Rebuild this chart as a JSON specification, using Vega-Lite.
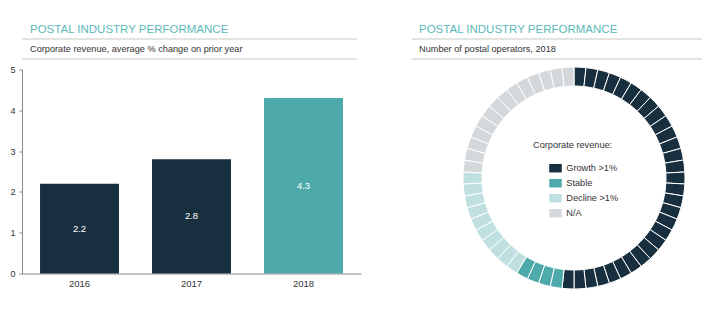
{
  "$schema": "https://vega.github.io/schema/vega-lite/v6.json",
  "padding": {"top": 23, "left": 0, "right": 0, "bottom": 0},
  "config": {"font": "Liberation Sans", "view": {"stroke": null}},
  "spacing": 4.5,
  "resolve": {"scale": {"color": "independent", "fill": "independent"}, "legend": {"color": "independent"}},
  "vconcat": [
    {
      "spacing": 53,
      "hconcat": [
        {
          "width": 335,
          "height": 20,
          "title": {"text": "POSTAL INDUSTRY PERFORMANCE", "subtitle": "Corporate revenue, average % change on prior year", "anchor": "start", "frame": "group", "dx": 8, "offset": -16, "fontSize": 11.5, "fontWeight": "normal", "color": "#5ab9ba", "subtitleFontSize": 9.2, "subtitleColor": "#333333", "subtitlePadding": 10},
          "data": {"values": [{"line": 0}, {"line": 1}]},
          "mark": {"type": "rule", "color": "#c8c8c8", "strokeWidth": 1.2},
          "encoding": {"y": {"field": "line", "type": "quantitative", "scale": {"domain": [0, 1]}, "axis": null}}
        },
        {
          "width": 314,
          "height": 20,
          "title": {"text": "POSTAL INDUSTRY PERFORMANCE", "subtitle": "Number of postal operators, 2018", "anchor": "start", "frame": "group", "dx": 7, "offset": -16, "fontSize": 11.5, "fontWeight": "normal", "color": "#5ab9ba", "subtitleFontSize": 9.2, "subtitleColor": "#333333", "subtitlePadding": 10},
          "data": {"values": [{"line": 0}, {"line": 1}]},
          "mark": {"type": "rule", "color": "#c8c8c8", "strokeWidth": 1.2},
          "encoding": {"y": {"field": "line", "type": "quantitative", "scale": {"domain": [0, 1]}, "axis": null}}
        }
      ]
    },
    {
      "spacing": 85,
      "resolve": {"scale": {"color": "independent", "fill": "independent"}, "legend": {"color": "independent"}},
      "hconcat": [
        {
          "width": 339,
          "height": 204,
          "data": {"values": [
            {"year": "2016", "value": 2.2},
            {"year": "2017", "value": 2.8},
            {"year": "2018", "value": 4.3}
          ]},
          "encoding": {
            "x": {"field": "year", "type": "ordinal", "scale": {"paddingInner": 0.295, "paddingOuter": 0.161},
              "axis": {"title": null, "labelAngle": 0, "ticks": false, "tickSize": 0, "domainColor": "#888888", "labelFontSize": 9.5, "labelColor": "#333333", "labelPadding": 5}}
          },
          "resolve": {"scale": {"y": "independent"}, "axis": {"y": "independent"}},
          "layer": [
            {
              "mark": {"type": "bar"},
              "encoding": {
                "y": {"field": "value", "type": "quantitative", "scale": {"domain": [0, 5], "nice": false},
                  "axis": {"title": null, "values": [0, 1, 2, 3, 4, 5], "grid": false, "domainColor": "#888888", "tickColor": "#888888", "tickSize": 3, "labelFontSize": 9, "labelColor": "#333333", "labelPadding": 4, "minExtent": 22}},
                "fill": {"field": "year", "type": "nominal", "scale": {"domain": ["2016", "2017", "2018"], "range": ["#182f3f", "#182f3f", "#4ea9aa"]}, "legend": null}
              }
            },
            {
              "mark": {"type": "text", "color": "#ffffff", "fontSize": 9.5, "baseline": "middle", "align": "center"},
              "encoding": {
                "y": {"field": "value", "type": "quantitative", "scale": {"domain": [0, 10], "nice": false}, "axis": null},
                "text": {"field": "value", "type": "quantitative", "format": ".1f"}
              }
            }
          ]
        },
        {
          "width": 256,
          "height": 217,
          "data": {"values": [
            {"op": 1, "status": "Growth >1%", "operators": 1},
            {"op": 2, "status": "Growth >1%", "operators": 1},
            {"op": 3, "status": "Growth >1%", "operators": 1},
            {"op": 4, "status": "Growth >1%", "operators": 1},
            {"op": 5, "status": "Growth >1%", "operators": 1},
            {"op": 6, "status": "Growth >1%", "operators": 1},
            {"op": 7, "status": "Growth >1%", "operators": 1},
            {"op": 8, "status": "Growth >1%", "operators": 1},
            {"op": 9, "status": "Growth >1%", "operators": 1},
            {"op": 10, "status": "Growth >1%", "operators": 1},
            {"op": 11, "status": "Growth >1%", "operators": 1},
            {"op": 12, "status": "Growth >1%", "operators": 1},
            {"op": 13, "status": "Growth >1%", "operators": 1},
            {"op": 14, "status": "Growth >1%", "operators": 1},
            {"op": 15, "status": "Growth >1%", "operators": 1},
            {"op": 16, "status": "Growth >1%", "operators": 1},
            {"op": 17, "status": "Growth >1%", "operators": 1},
            {"op": 18, "status": "Growth >1%", "operators": 1},
            {"op": 19, "status": "Growth >1%", "operators": 1},
            {"op": 20, "status": "Growth >1%", "operators": 1},
            {"op": 21, "status": "Growth >1%", "operators": 1},
            {"op": 22, "status": "Growth >1%", "operators": 1},
            {"op": 23, "status": "Growth >1%", "operators": 1},
            {"op": 24, "status": "Growth >1%", "operators": 1},
            {"op": 25, "status": "Growth >1%", "operators": 1},
            {"op": 26, "status": "Growth >1%", "operators": 1},
            {"op": 27, "status": "Growth >1%", "operators": 1},
            {"op": 28, "status": "Growth >1%", "operators": 1},
            {"op": 29, "status": "Growth >1%", "operators": 1},
            {"op": 30, "status": "Growth >1%", "operators": 1},
            {"op": 31, "status": "Stable", "operators": 1},
            {"op": 32, "status": "Stable", "operators": 1},
            {"op": 33, "status": "Stable", "operators": 1},
            {"op": 34, "status": "Stable", "operators": 1},
            {"op": 35, "status": "Decline >1%", "operators": 1},
            {"op": 36, "status": "Decline >1%", "operators": 1},
            {"op": 37, "status": "Decline >1%", "operators": 1},
            {"op": 38, "status": "Decline >1%", "operators": 1},
            {"op": 39, "status": "Decline >1%", "operators": 1},
            {"op": 40, "status": "Decline >1%", "operators": 1},
            {"op": 41, "status": "Decline >1%", "operators": 1},
            {"op": 42, "status": "Decline >1%", "operators": 1},
            {"op": 43, "status": "Decline >1%", "operators": 1},
            {"op": 44, "status": "Decline >1%", "operators": 1},
            {"op": 45, "status": "N/A", "operators": 1},
            {"op": 46, "status": "N/A", "operators": 1},
            {"op": 47, "status": "N/A", "operators": 1},
            {"op": 48, "status": "N/A", "operators": 1},
            {"op": 49, "status": "N/A", "operators": 1},
            {"op": 50, "status": "N/A", "operators": 1},
            {"op": 51, "status": "N/A", "operators": 1},
            {"op": 52, "status": "N/A", "operators": 1},
            {"op": 53, "status": "N/A", "operators": 1},
            {"op": 54, "status": "N/A", "operators": 1},
            {"op": 55, "status": "N/A", "operators": 1},
            {"op": 56, "status": "N/A", "operators": 1},
            {"op": 57, "status": "N/A", "operators": 1},
            {"op": 58, "status": "N/A", "operators": 1}
          ]},
          "mark": {"type": "arc", "radius": 111, "innerRadius": 92, "stroke": "#ffffff", "strokeWidth": 1},
          "encoding": {
            "theta": {"field": "operators", "type": "quantitative", "stack": true},
            "order": {"field": "op", "type": "quantitative"},
            "color": {"field": "status", "type": "nominal",
              "scale": {"domain": ["Growth >1%", "Stable", "Decline >1%", "N/A"], "range": ["#182f3f", "#4ea9aa", "#bfdfe0", "#d5d8db"]},
              "legend": {"orient": "none", "legendX": 87, "legendY": 71, "title": "Corporate revenue:", "padding": 0, "titleFontSize": 9.2, "titleFontWeight": "normal", "titleColor": "#333333", "titlePadding": 12, "symbolType": "M-1,-0.68H1V0.68H-1Z", "symbolSize": 156, "symbolStrokeWidth": 0, "symbolOffset": 16, "labelFontSize": 9.2, "labelColor": "#333333", "labelOffset": 4.3, "rowPadding": 3, "direction": "vertical"}}
          }
        }
      ]
    }
  ]
}
